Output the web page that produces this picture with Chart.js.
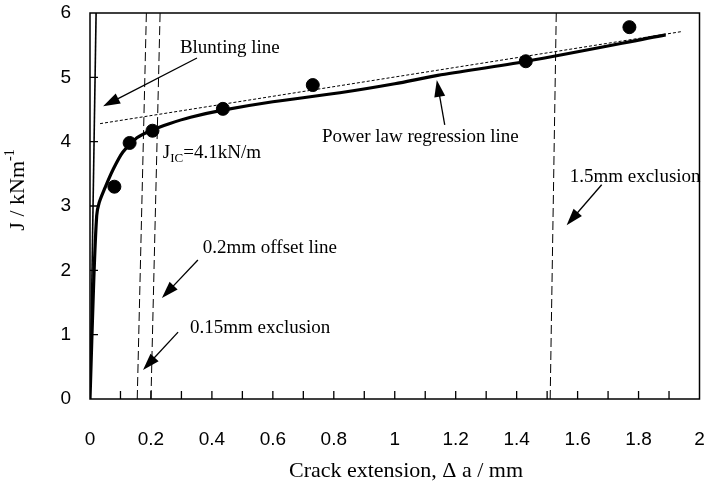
<!DOCTYPE html>
<html>
<head>
<meta charset="utf-8">
<script src="https://cdn.jsdelivr.net/npm/chart.js@4.4.0/dist/chart.umd.min.js"></script>
<style>
  html, body { margin: 0; background: #fff; }
  #wrap { width: 707px; height: 483px; }
</style>
</head>
<body>
<div id="wrap"><canvas id="jrCurve"></canvas></div>
<script>
// measured points (crack extension in mm, J in kN/m)
const crackExt = [0.08, 0.13, 0.205, 0.436, 0.731, 1.43, 1.77];
const jValues = [3.30, 3.98, 4.17, 4.51, 4.88, 5.25, 5.78];

// fitted power law curve
const fitX = [0, 0.012, 0.022, 0.03, 0.049, 0.075, 0.108, 0.154, 0.203, 0.26, 0.33, 0.436, 0.6, 0.82, 1.0, 1.141, 1.433, 1.889];
const fitY = [0, 1.8, 2.85, 3.05, 3.28, 3.56, 3.84, 4.06, 4.18, 4.28, 4.38, 4.49, 4.62, 4.76, 4.90, 5.03, 5.25, 5.66];

// dotted regression line ends
const regX = [0.033, 1.94];
const regY = [4.28, 5.71];

// blunting line and the offset / exclusion lines parallel to it
const bluntX = [0, 0.02];
const bluntY = [0, 6];
const excl015X = [0.155, 0.185];
const offset02X = [0.2, 0.23];
const excl15X = [1.51, 1.53];

const xMinorTicks = [0.1, 0.2, 0.3, 0.4, 0.5, 0.6, 0.7, 0.8, 0.9, 1, 1.1, 1.2, 1.3, 1.4, 1.5, 1.6, 1.7, 1.8, 1.9];
const yMinorTicks = [1, 2, 3, 4, 5];

const toPts = (xs, ys) => xs.map((x, i) => ({ x: x, y: ys[i] }));

// text labels and arrows (in data units)
const notes = [
  { text: 'Blunting line', x: 0.295, y: 5.46 },
  { text: 'Power law regression line', x: 0.761, y: 4.07 },
  { text: '0.2mm offset line', x: 0.37, y: 2.35 },
  { text: '0.15mm exclusion', x: 0.328, y: 1.10 },
  { text: '1.5mm exclusion', x: 1.574, y: 3.45 }
];
const arrows = [
  { from: [0.351, 5.30], to: [0.043, 4.55] },
  { from: [1.164, 4.26], to: [1.138, 4.96] },
  { from: [0.354, 2.16], to: [0.236, 1.57] },
  { from: [0.289, 1.04], to: [0.174, 0.45] },
  { from: [1.679, 3.33], to: [1.564, 2.70] }
];

const SERIF = '"Liberation Serif", "Times New Roman", serif';
const SANS = '"Liberation Sans", Arial, sans-serif';

function drawArrow(ctx, x1, y1, x2, y2) {
  const ang = Math.atan2(y2 - y1, x2 - x1);
  const len = 17, half = 5.5;
  ctx.beginPath();
  ctx.moveTo(x1, y1);
  ctx.lineTo(x2 - Math.cos(ang) * len * 0.8, y2 - Math.sin(ang) * len * 0.8);
  ctx.lineWidth = 1.3;
  ctx.stroke();
  ctx.beginPath();
  ctx.moveTo(x2, y2);
  ctx.lineTo(x2 - Math.cos(ang) * len - Math.sin(ang) * half, y2 - Math.sin(ang) * len + Math.cos(ang) * half);
  ctx.lineTo(x2 - Math.cos(ang) * len + Math.sin(ang) * half, y2 - Math.sin(ang) * len - Math.cos(ang) * half);
  ctx.closePath();
  ctx.fill();
}

const decor = {
  id: 'decor',
  afterDraw(chart) {
    const ctx = chart.ctx;
    const xs = chart.scales.x, ys = chart.scales.y;
    const a = chart.chartArea;
    ctx.save();
    ctx.strokeStyle = '#000';
    ctx.fillStyle = '#000';

    // frame
    ctx.lineWidth = 1.5;
    ctx.strokeRect(a.left, a.top, a.right - a.left, a.bottom - a.top);

    // inward tick marks
    ctx.lineWidth = 1.3;
    ctx.beginPath();
    xMinorTicks.forEach(v => {
      const px = xs.getPixelForValue(v);
      ctx.moveTo(px, a.bottom);
      ctx.lineTo(px, a.bottom - 8);
    });
    yMinorTicks.forEach(v => {
      const py = ys.getPixelForValue(v);
      ctx.moveTo(a.left, py);
      ctx.lineTo(a.left + 8, py);
    });
    ctx.stroke();

    // notes
    ctx.font = '19px ' + SERIF;
    ctx.textBaseline = 'middle';
    ctx.textAlign = 'left';
    notes.forEach(n => {
      ctx.fillText(n.text, xs.getPixelForValue(n.x), ys.getPixelForValue(n.y));
    });
    arrows.forEach(ar => {
      drawArrow(ctx,
        xs.getPixelForValue(ar.from[0]), ys.getPixelForValue(ar.from[1]),
        xs.getPixelForValue(ar.to[0]), ys.getPixelForValue(ar.to[1]));
    });

    // J_IC label with subscript
    let jx = xs.getPixelForValue(0.239);
    const jy = ys.getPixelForValue(3.83);
    ctx.font = '19px ' + SERIF;
    ctx.fillText('J', jx, jy);
    jx += ctx.measureText('J').width;
    ctx.font = '13px ' + SERIF;
    ctx.fillText('IC', jx, jy + 6);
    jx += ctx.measureText('IC').width;
    ctx.font = '19px ' + SERIF;
    ctx.fillText('=4.1kN/m', jx, jy);

    // x axis title
    ctx.font = '22px ' + SERIF;
    ctx.textAlign = 'center';
    ctx.fillText('Crack extension, \u0394 a / mm', 406, 471);

    // y axis title, rotated, with superscript
    ctx.translate(18, 190);
    ctx.rotate(-Math.PI / 2);
    const main = 'J / kNm';
    ctx.font = '14px ' + SERIF;
    const supW = ctx.measureText('-1').width;
    ctx.font = '22px ' + SERIF;
    const mainW = ctx.measureText(main).width;
    const start = -(mainW + supW) / 2;
    ctx.textAlign = 'left';
    ctx.fillText(main, start, 0);
    ctx.font = '14px ' + SERIF;
    ctx.fillText('-1', start + mainW, -8);
    ctx.restore();
  }
};

const lineStyle = (pts, width, dash) => ({
  data: pts,
  showLine: true,
  borderColor: '#000',
  borderWidth: width,
  borderDash: dash,
  pointRadius: 0,
  fill: false,
  tension: 0
});

const fitSet = lineStyle(toPts(fitX, fitY), 3.2, []);
fitSet.borderJoinStyle = 'round';
fitSet.tension = 0.3;

const fmt = v => String(Math.round(v * 10) / 10);

new Chart(document.getElementById('jrCurve'), {
  type: 'scatter',
  data: {
    datasets: [
      fitSet,
      lineStyle(toPts(regX, regY), 1, [3, 2]),
      lineStyle(toPts(bluntX, bluntY), 1.6, []),
      lineStyle(toPts(excl015X, bluntY), 1, [9, 4]),
      lineStyle(toPts(offset02X, bluntY), 1, [9, 4]),
      lineStyle(toPts(excl15X, bluntY), 1, [9, 4]),
      {
        data: toPts(crackExt, jValues),
        backgroundColor: '#000',
        borderColor: '#000',
        pointRadius: 6.5,
        pointHoverRadius: 6.5
      }
    ]
  },
  options: {
    responsive: true,
    maintainAspectRatio: false,
    animation: false,
    devicePixelRatio: 1,
    layout: { padding: { top: 13, right: 7, left: 0, bottom: 0 } },
    plugins: { legend: { display: false }, tooltip: { enabled: false } },
    scales: {
      x: {
        type: 'linear',
        min: 0,
        max: 2,
        grid: { display: false },
        border: { display: false },
        ticks: { stepSize: 0.2, maxRotation: 0, padding: 21, color: '#000', callback: fmt, font: { family: SANS, size: 19 } },
        afterFit: s => { s.height = 84; s.paddingLeft = 0; s.paddingRight = 0; }
      },
      y: {
        min: 0,
        max: 6,
        grid: { display: false },
        border: { display: false },
        ticks: { stepSize: 1, padding: 11, color: '#000', font: { family: SANS, size: 19 } },
        afterFit: s => { s.width = 90; s.paddingTop = 0; s.paddingBottom = 0; }
      }
    }
  },
  plugins: [decor]
});
</script>
</body>
</html>
